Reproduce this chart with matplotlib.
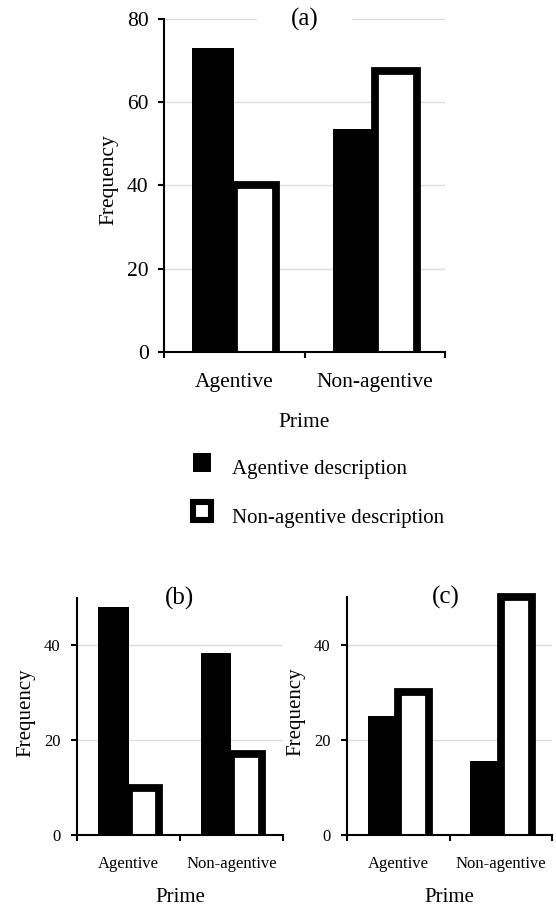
import numpy as np
import matplotlib.pyplot as plt
from matplotlib.patches import Patch, Rectangle
from matplotlib.legend_handler import HandlerPatch

plt.rcParams['font.family'] = ['Liberation Serif', 'DejaVu Serif']

# data
primes = ["Agentive", "Non-agentive"]
legend_labels = ["Agentive description", "Non-agentive description"]

a_agentive = [73, 53.5]
a_nonagentive = [40, 67.5]

b_agentive = [48, 38.5]
b_nonagentive = [10, 17]

c_agentive = [25, 15.5]
c_nonagentive = [30, 50]

W, H = 556, 907
fig = plt.figure(figsize=(W / 100, H / 100), dpi=100)


def px_axes(left, right, top_px, bottom_px, yspan, ylim_top):
    # convert pixel geometry to a figure-fraction rect; top_px is where yspan sits
    per_unit = (bottom_px - top_px) / yspan
    height = per_unit * ylim_top
    return [left / W, 1 - bottom_px / H, (right - left) / W, height / H]


def panel(ax, ag, nonag, ymax, yticks, title, title_x, title_pad, tick_fs, lab_fs,
          xpad, ypad, xlpad, ylpad, sink):
    x = np.arange(len(primes))
    ax.set_axisbelow(True)
    ax.yaxis.grid(True, color='#dcdcdc', lw=1)
    ax.bar(x - 0.15, ag, 0.3, color='black', edgecolor='black', lw=0, zorder=2)
    # start the outlined bars a bit below zero so the bottom edge hides under the axis
    ax.bar(x + 0.15, np.array(nonag) + sink, 0.3, bottom=-sink, color='white',
           edgecolor='black', lw=5.6, zorder=3)
    ax.set_xlim(-0.5, 1.5)
    ax.set_ylim(0, ymax * 1.035)
    for s in ['top', 'right']:
        ax.spines[s].set_visible(False)
    for s in ['left', 'bottom']:
        ax.spines[s].set_linewidth(1.5)
        ax.spines[s].set_zorder(4)
    ax.spines['left'].set_bounds(0, ymax)
    ax.set_yticks(yticks)
    ax.set_xticks([-0.5, 0.5, 1.5])
    ax.set_xticklabels([])
    ax.set_xticks(x, minor=True)
    ax.set_xticklabels(primes, minor=True, fontsize=tick_fs)
    ax.tick_params(axis='x', which='major', direction='out', length=4, width=1.5)
    ax.tick_params(axis='x', which='minor', length=0, pad=xpad)
    ax.tick_params(axis='y', direction='out', length=4, width=1.5, pad=ypad,
                   labelsize=tick_fs)
    ax.set_xlabel("Prime", fontsize=lab_fs, labelpad=xlpad)
    ax.set_ylabel("Frequency", fontsize=lab_fs, labelpad=ylpad)
    ax.text(title_x, ymax, title, fontsize=18, ha='center', va='center', zorder=1.5,
            bbox=dict(facecolor='white', edgecolor='none', pad=title_pad))


ax_a = fig.add_axes(px_axes(164, 445, 19, 352, 80, 80 * 1.035))
panel(ax_a, a_agentive, a_nonagentive, 80, [0, 20, 40, 60, 80], "(a)", 0.5, 24,
      15.5, 15.5, 15, 7, 15, 6, 1.3)

ax_b = fig.add_axes(px_axes(77, 283, 598, 835, 50, 50 * 1.035))
panel(ax_b, b_agentive, b_nonagentive, 50, [0, 20, 40], "(b)", 0.5, 2,
      12, 15, 15, 8, 12, 6, 1.1)

ax_c = fig.add_axes(px_axes(347, 552, 597, 835, 50, 50 * 1.035))
panel(ax_c, c_agentive, c_nonagentive, 50, [0, 20, 40], "(c)", 0.46, 2,
      12, 15, 15, 8, 12, 6, 1.1)


# legend squares sit a little above the text line, as in the reference
def raised_square(legend, orig_handle, xdescent, ydescent, width, height, fontsize):
    return Rectangle((-xdescent, -ydescent + 3.5), width, height)


handles = [Patch(facecolor='black', edgecolor='black', lw=0),
           Patch(facecolor='white', edgecolor='black', lw=4.4)]
fig.legend(handles, legend_labels, loc='upper left', frameon=False,
           bbox_to_anchor=(193 / W, 1 - 458 / H), fontsize=15,
           handlelength=0.88, handleheight=1.0, handletextpad=1.0,
           labelspacing=1.3, borderpad=0, borderaxespad=0,
           handler_map={Patch: HandlerPatch(patch_func=raised_square)})

fig.savefig("out.png", dpi=100)
